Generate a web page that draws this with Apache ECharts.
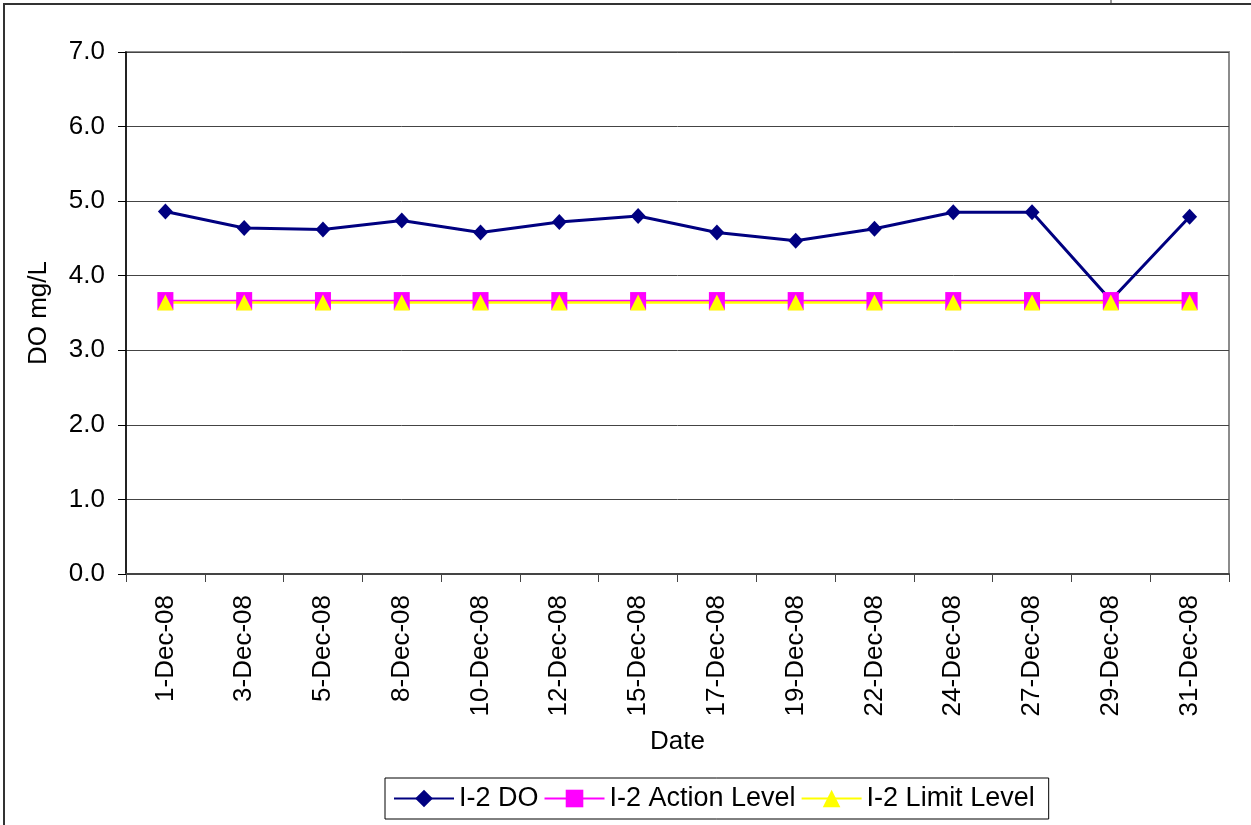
<!DOCTYPE html>
<html>
<head>
<meta charset="utf-8">
<script src="https://cdn.jsdelivr.net/npm/echarts@6/dist/echarts.min.js"></script>
<style>
  html, body { margin: 0; padding: 0; background: #fff; }
  #chart { width: 1251px; height: 825px; }
</style>
</head>
<body>
<div id="chart"></div>
<script>
// sample dates
const dates = ['1-Dec-08', '3-Dec-08', '5-Dec-08', '8-Dec-08', '10-Dec-08', '12-Dec-08', '15-Dec-08',
  '17-Dec-08', '19-Dec-08', '22-Dec-08', '24-Dec-08', '27-Dec-08', '29-Dec-08', '31-Dec-08']
// measured DO (mg/L)
const doValues = [4.86, 4.64, 4.62, 4.74, 4.58, 4.72, 4.80, 4.58, 4.47, 4.63, 4.85, 4.85, 3.67, 4.79]
// action / limit levels
const actionLevel = [3.66, 3.66, 3.66, 3.66, 3.66, 3.66, 3.66, 3.66, 3.66, 3.66, 3.66, 3.66, 3.66, 3.66]
const limitLevel = [3.64, 3.64, 3.64, 3.64, 3.64, 3.64, 3.64, 3.64, 3.64, 3.64, 3.64, 3.64, 3.64, 3.64]

const font = 'Liberation Sans, Arial, sans-serif'
const chart = echarts.init(document.getElementById('chart'))

chart.setOption({
  animation: false,
  textStyle: { fontFamily: font, color: '#000' },
  graphic: [
    // outer chart frame (runs off the picture on right / bottom)
    { type: 'rect', shape: { x: 4, y: 4, width: 1400, height: 1000 },
      style: { fill: 'none', stroke: '#333', lineWidth: 2 }, silent: true },
    { type: 'line', shape: { x1: 1111, y1: 0, x2: 1111, y2: 4 },
      style: { stroke: '#333', lineWidth: 1 }, silent: true }
  ],
  grid: {
    left: 126, top: 52, right: 22, bottom: 251,
    show: true, borderColor: '#8c8c8c', borderWidth: 2, backgroundColor: 'transparent'
  },
  legend: {
    left: 385, top: 778,
    padding: [7, 14, 7, 8],
    itemGap: 5,
    itemWidth: 60, itemHeight: 22,
    borderColor: '#000', borderWidth: 1,
    textStyle: { fontSize: 27, fontFamily: font, color: '#000' },
    data: ['I-2 DO', 'I-2 Action Level', 'I-2 Limit Level']
  },
  xAxis: {
    type: 'category',
    data: dates,
    boundaryGap: true,
    name: 'Date',
    nameLocation: 'middle',
    nameGap: 155,
    nameTextStyle: { fontSize: 26, fontFamily: font, color: '#000' },
    axisLine: { lineStyle: { color: '#444', width: 2 } },
    axisTick: { show: true, length: 8, lineStyle: { color: '#444' } },
    axisLabel: { rotate: 90, margin: 21, fontSize: 26, fontFamily: font, color: '#000' },
    splitLine: { show: false }
  },
  yAxis: {
    type: 'value',
    min: 0, max: 7, interval: 1,
    name: 'DO mg/L',
    nameLocation: 'middle',
    nameGap: 74,
    nameTextStyle: { fontSize: 26, fontFamily: font, color: '#000' },
    axisLine: { show: true, lineStyle: { color: '#000', width: 1.5 } },
    axisTick: { show: true, length: 8, lineStyle: { color: '#000' } },
    axisLabel: { margin: 21, fontSize: 26, fontFamily: font, color: '#000',
      formatter: v => v.toFixed(1) },
    splitLine: { show: true, lineStyle: { color: '#444', width: 1 } }
  },
  series: [
    {
      name: 'I-2 DO', type: 'line', data: doValues,
      symbol: 'diamond', symbolSize: [15, 16],
      itemStyle: { color: '#000080' },
      lineStyle: { color: '#000080', width: 3 }
    },
    {
      name: 'I-2 Action Level', type: 'line', data: actionLevel,
      symbol: 'rect', symbolSize: [16, 18],
      itemStyle: { color: '#ff00ff' },
      lineStyle: { color: '#ff00ff', width: 2.5 }
    },
    {
      name: 'I-2 Limit Level', type: 'line', data: limitLevel,
      symbol: 'triangle', symbolSize: [16, 16],
      itemStyle: { color: '#ffff00' },
      lineStyle: { color: '#ffff00', width: 2.5 }
    }
  ]
})
</script>
</body>
</html>
